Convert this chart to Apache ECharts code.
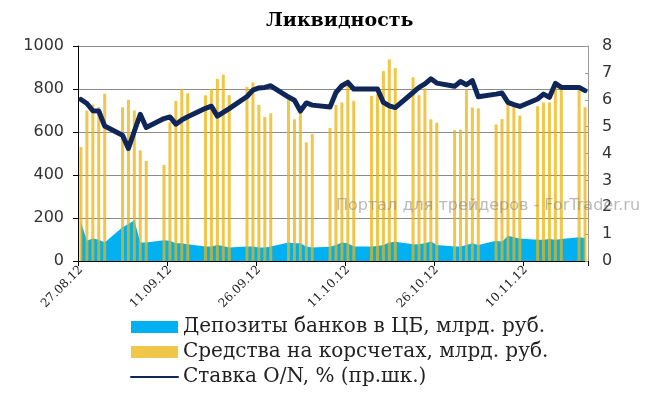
<!DOCTYPE html>
<html>
<head>
<meta charset="utf-8">
<script src="https://cdn.jsdelivr.net/npm/echarts@6/dist/echarts.min.js"></script>
<style>
html,body{margin:0;padding:0;background:#fff;}
#chart{width:651px;height:393px;}
</style>
</head>
<body>
<div id="chart"></div>
<script>
// Calendar days 27.08.12 .. 20.11.12 (weekends have no values)
var dates = [
 '27.08.12','28.08.12','29.08.12','30.08.12','31.08.12','01.09.12','02.09.12',
 '03.09.12','04.09.12','05.09.12','06.09.12','07.09.12','08.09.12','09.09.12',
 '10.09.12','11.09.12','12.09.12','13.09.12','14.09.12','15.09.12','16.09.12',
 '17.09.12','18.09.12','19.09.12','20.09.12','21.09.12','22.09.12','23.09.12',
 '24.09.12','25.09.12','26.09.12','27.09.12','28.09.12','29.09.12','30.09.12',
 '01.10.12','02.10.12','03.10.12','04.10.12','05.10.12','06.10.12','07.10.12',
 '08.10.12','09.10.12','10.10.12','11.10.12','12.10.12','13.10.12','14.10.12',
 '15.10.12','16.10.12','17.10.12','18.10.12','19.10.12','20.10.12','21.10.12',
 '22.10.12','23.10.12','24.10.12','25.10.12','26.10.12','27.10.12','28.10.12',
 '29.10.12','30.10.12','31.10.12','01.11.12','02.11.12','03.11.12','04.11.12',
 '05.11.12','06.11.12','07.11.12','08.11.12','09.11.12','10.11.12','11.11.12',
 '12.11.12','13.11.12','14.11.12','15.11.12','16.11.12','17.11.12','18.11.12',
 '19.11.12','20.11.12'
];

// Депозиты банков в ЦБ, млрд. руб.
var deposits = [
 180, 94, 105, 99, 86, null, null,
 157, 172, 190, 86, 86, null, null,
 97, 94, 83, 82, 78, null, null,
 67, 67, 75, 70, 63, null, null,
 67, 67, 63, 63, 67, null, null,
 86, 83, 82, 67, 63, null, null,
 66, 75, 86, 83, 67, null, null,
 67, 70, 75, 86, 89, null, null,
 78, 78, 83, 91, 75, null, null,
 67, 67, 75, 83, 75, null, null,
 94, 89, 118, 110, 105, null, null,
 99, 99, 102, 99, 102, null, null,
 110, 107
];

// Средства на корсчетах, млрд. руб.
var accounts = [
 530, 700, 728, 715, 778, null, null,
 715, 750, 700, 515, 465, null, null,
 447, 645, 745, 800, 780, null, null,
 771, 800, 847, 867, 771, null, null,
 810, 831, 726, 670, 687, null, null,
 752, 659, 696, 552, 591, null, null,
 619, 726, 737, 844, 745, null, null,
 768, 776, 883, 938, 897, null, null,
 855, 771, 803, 659, 643, null, null,
 609, 611, 798, 714, 710, null, null,
 635, 660, 729, 720, 676, null, null,
 720, 737, 737, 810, 800, null, null,
 803, 715
];

// Ставка O/N, % (пр.шк.)
var rate = [
 6.01, 5.86, 5.59, 5.58, 5.02, null, null,
 4.68, 4.19, 4.83, 5.46, 4.97, null, null,
 5.30, 5.36, 5.09, 5.25, 5.37, null, null,
 5.68, 5.76, 5.39, 5.53, 5.67, null, null,
 6.12, 6.36, 6.44, 6.46, 6.52, null, null,
 6.10, 5.98, 5.58, 5.88, 5.80, null, null,
 5.73, 6.27, 6.52, 6.65, 6.40, null, null,
 6.40, 6.40, 5.90, 5.77, 5.71, null, null,
 6.27, 6.46, 6.59, 6.78, 6.62, null, null,
 6.50, 6.68, 6.56, 6.71, 6.11, null, null,
 6.21, 6.25, 5.90, 5.82, 5.75, null, null,
 6.03, 6.21, 6.09, 6.61, 6.46, null, null,
 6.46, 6.34
];

var leftTicks = {min: 0, max: 1000, interval: 200};
var rightTicks = {min: 0, max: 8, interval: 1};

var names = ['Депозиты банков в ЦБ, млрд. руб.', 'Средства на корсчетах, млрд. руб.', 'Ставка O/N, % (пр.шк.)'];

var chart = echarts.init(document.getElementById('chart'), null, {renderer: 'canvas'});
chart.setOption({
  animation: false,
  backgroundColor: '#fff',
  title: {
    text: 'Ликвидность',
    left: 266,
    top: 12,
    padding: 0,
    textStyle: {fontFamily: 'DejaVu Serif', fontWeight: 'bold', fontSize: 19, color: '#000'}
  },
  grid: {left: 78, right: 63, top: 46, bottom: 132, containLabel: false},
  legend: {
    orient: 'vertical',
    left: 130,
    top: 317,
    padding: 0,
    height: 80,
    itemWidth: 47,
    itemHeight: 12,
    itemGap: 5,
    textStyle: {fontFamily: 'DejaVu Serif', fontSize: 20, color: '#222', lineHeight: 20},
    data: [
      {name: names[0], icon: 'rect'},
      {name: names[1], icon: 'rect'},
      {name: names[2], itemStyle: {opacity: 0}}
    ]
  },
  graphic: [{
    type: 'text',
    left: 336,
    top: 198,
    silent: true,
    z: 100,
    style: {text: 'Портал для трейдеров - ForTrader.ru', fill: 'rgba(130,130,130,0.55)', font: '16px "DejaVu Sans"'}
  }],
  xAxis: {
    type: 'category',
    data: dates,
    boundaryGap: true,
    axisLine: {lineStyle: {color: '#000', width: 1}},
    axisTick: {show: true, interval: 14, length: 5, lineStyle: {color: '#000'}},
    axisLabel: {interval: 14, rotate: 45, fontFamily: 'DejaVu Serif', fontSize: 12, color: '#222', margin: 7},
    splitLine: {show: false}
  },
  yAxis: [{
    type: 'value',
    min: leftTicks.min, max: leftTicks.max, interval: leftTicks.interval,
    axisLine: {show: true, lineStyle: {color: '#000', width: 1}},
    axisTick: {show: true, length: 5, lineStyle: {color: '#000'}},
    axisLabel: {fontFamily: 'DejaVu Sans', fontSize: 16, color: '#333', margin: 14, formatter: function (v) { return String(v); }},
    splitLine: {show: true, lineStyle: {color: '#8a8a8a', width: 1}}
  }, {
    type: 'value',
    position: 'right',
    min: rightTicks.min, max: rightTicks.max, interval: rightTicks.interval,
    axisLine: {show: true, lineStyle: {color: '#999', width: 1}},
    axisTick: {show: true, inside: true, length: 3, lineStyle: {color: '#999'}},
    axisLabel: {fontFamily: 'DejaVu Sans', fontSize: 16, color: '#333', margin: 14},
    splitLine: {show: false}
  }],
  series: [{
    name: names[0],
    type: 'line',
    data: deposits,
    yAxisIndex: 0,
    connectNulls: true,
    symbol: 'none',
    lineStyle: {width: 0, color: '#00B0F0'},
    itemStyle: {color: '#00B0F0'},
    areaStyle: {color: '#00B0F0', opacity: 1},
    z: 1
  }, {
    name: names[1],
    type: 'bar',
    data: accounts,
    yAxisIndex: 0,
    barWidth: 3,
    itemStyle: {color: 'rgba(236,178,10,0.74)'},
    z: 2
  }, {
    name: names[2],
    type: 'line',
    data: rate,
    yAxisIndex: 1,
    connectNulls: true,
    symbol: 'none',
    lineStyle: {width: 5, color: '#0E2658', join: 'round', cap: 'round'},
    itemStyle: {color: '#0E2658'},
    z: 3
  }]
});
</script>
</body>
</html>
